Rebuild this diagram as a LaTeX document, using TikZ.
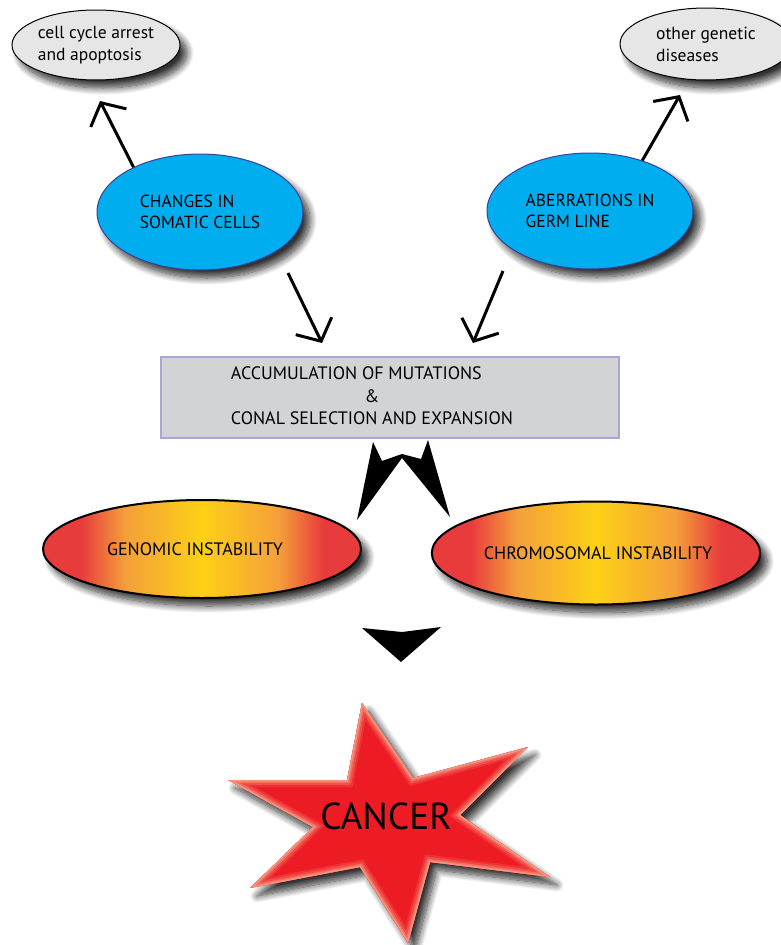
\documentclass[tikz,border=0pt]{standalone}
\usepackage{fontspec}
\setmainfont{PT Sans}
\usetikzlibrary{shapes.geometric,arrows.meta,shadows.blur}
\definecolor{outgray}{HTML}{E6E6E6}
\definecolor{cellblue}{HTML}{00AEEF}
\definecolor{cellrim}{HTML}{3A3F99}
\definecolor{boxgray}{HTML}{D1D3D4}
\definecolor{boxrim}{HTML}{A9A6D6}
\definecolor{instred}{HTML}{E83C3C}
\definecolor{instorange}{HTML}{F4A03A}
\definecolor{instyellow}{HTML}{FDD116}
\definecolor{starred}{HTML}{ED1C24}
\definecolor{starglow}{HTML}{F6A88E}
\pgfdeclarehorizontalshading{instab}{100bp}{color(0bp)=(instred); color(31bp)=(instred); color(38bp)=(instorange); color(50bp)=(instyellow); color(62bp)=(instorange); color(69bp)=(instred); color(100bp)=(instred)}
\tikzset{
  softshadow/.style={blur shadow={shadow xshift=7pt,shadow yshift=-8pt,shadow blur radius=7pt,shadow blur steps=12,shadow opacity=80}},
  outcome/.style={ellipse,draw=black,line width=1pt,fill=outgray,inner sep=0pt,align=left,
    minimum width=168pt,minimum height=70pt,font=\fontsize{17.5}{22}\selectfont,softshadow},
  origin/.style={ellipse,draw=cellrim,line width=1pt,fill=cellblue,inner sep=0pt,align=left,
    minimum width=206pt,minimum height=116pt,font=\fontsize{17.5}{21}\selectfont,softshadow},
  instab/.style={ellipse,draw=black,line width=2pt,shade,shading=instab,inner sep=0pt,
    minimum width=318pt,minimum height=98pt,font=\fontsize{18}{20}\selectfont,softshadow},
  barb/.style={line width=3pt,-{Straight Barb[length=17pt,width=40pt]}},
}
\begin{document}
\begin{tikzpicture}[x=1pt,y=-1pt]
  \useasboundingbox (0,0) rectangle (781,945);
  %esiti
  \node[outcome] (arrest) at (96,45) {cell cycle arrest\\and apoptosis\hspace*{8pt}};
  \node[outcome,minimum width=172pt,minimum height=72pt] (otherdis) at (706,44) {other genetic\\diseases\hspace*{30pt}};
  %origini
  \node[origin] (soma) at (200,212) {CHANGES IN\\SOMATIC CELLS};
  \node[origin] (germ) at (590,211) {ABERRATIONS IN\\GERM LINE};
  %frecce sottili
  \coordinate (arrestTip) at (100,101);
  \coordinate (otherTip) at (680,95);
  \draw[barb] (soma.146) -- (arrestTip);
  \draw[barb] (germ.44) -- (otherTip);
  \coordinate (somaOut) at (288,273);
  \coordinate (germOut) at (503,271);
  \coordinate (accumInL) at (322,343);
  \coordinate (accumInR) at (473,343);
  \draw[barb] (somaOut) -- (accumInL);
  \draw[barb] (germOut) -- (accumInR);
  %riquadro
  \node[rectangle,draw=boxrim,line width=1.5pt,fill=boxgray,minimum width=458pt,minimum height=81pt,inner sep=0pt,
    font=\fontsize{18}{22.5}\selectfont] (accum) at (390,397.5)
    {\begin{tabular}{@{}l@{}}ACCUMULATION OF MUTATIONS\\ \multicolumn{1}{@{}c@{}}{\&}\\ CONAL SELECTION AND EXPANSION\end{tabular}\hspace*{36pt}};
  %instabilita
  \node[instab] (genomic) at (202,549) {GENOMIC INSTABILITY\hspace*{14pt}};
  \node[instab,minimum width=324pt,minimum height=103pt] (chromo) at (596,553) {\hspace*{4pt}CHROMOSOMAL INSTABILITY};
  %punte nere
  \fill[black] (357,520) -- (373,442) -- (382,461) -- (402,454) -- (421,459) -- (428,440) -- (450,517) -- (402,458) -- cycle;
  \fill[black] (362,628) -- (402,632) -- (441,627) -- (401,662) -- cycle;
  %stella
  \fill[starred,softshadow] (362,703) -- (413,778) -- (528,747) -- (460,815) -- (550,877) -- (430,862) -- (408,943)
    -- (360,867) -- (250,888) -- (313,827) -- (228,780) -- (347,780) -- cycle;
  \begin{scope}
    \clip (362,703) -- (413,778) -- (528,747) -- (460,815) -- (550,877) -- (430,862) -- (408,943)
      -- (360,867) -- (250,888) -- (313,827) -- (228,780) -- (347,780) -- cycle;
    \foreach \w/\c in {14/85,10/65,6/40,3/15}{
      \draw[starred!\c!starglow,line width=\w pt,line join=miter] (362,703) -- (413,778) -- (528,747) -- (460,815) -- (550,877)
        -- (430,862) -- (408,943) -- (360,867) -- (250,888) -- (313,827) -- (228,780) -- (347,780) -- cycle;
    }
  \end{scope}
  \node[font=\fontsize{37.5}{44}\selectfont] (cancer) at (386,816) {CANCER};
\end{tikzpicture}
\end{document}
